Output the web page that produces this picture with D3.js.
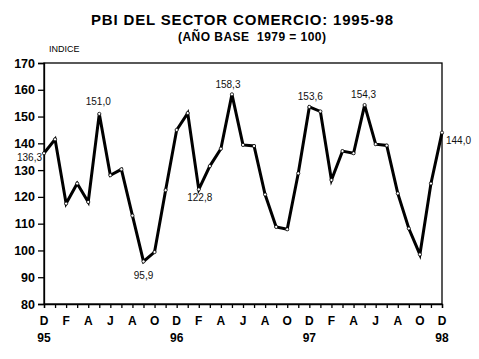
<!DOCTYPE html>
<html>
<head>
<meta charset="utf-8">
<script src="https://cdn.jsdelivr.net/npm/d3@7"></script>
<style>
  html, body { margin: 0; padding: 0; background: #fff; }
  svg { display: block; font-family: Arial, "Liberation Sans", sans-serif; }
</style>
</head>
<body>
<svg id="chart" width="479" height="359"></svg>
<script>
// ---- data ----
const title = "PBI DEL SECTOR COMERCIO: 1995-98";
const subtitle = "(AÑO BASE  1979 = 100)";
const yAxisTitle = "INDICE";
const values = [136.3, 141.5, 117.5, 125.0, 118.1, 151.0, 128.1, 130.3, 113.0, 95.9,
  99.4, 122.5, 145.0, 151.3, 122.8, 131.5, 138.0, 158.3, 139.4, 139.0,
  120.9, 108.8, 107.9, 128.8, 153.6, 151.9, 126.3, 137.1, 136.3, 154.3,
  139.7, 139.2, 121.3, 108.2, 98.5, 125.0, 144.0];
const monthLabels = ["D", "F", "A", "J", "A", "O"];
const yearLabels = ["95", "96", "97", "98"];
const yTicks = [80, 90, 100, 110, 120, 130, 140, 150, 160, 170];
const labeledPoints = [0, 5, 9, 14, 17, 24, 29, 36];

// ---- layout ----
const svg = d3.select("#chart");
const pLeft = 44, pRight = 442, pTop = 63, pBottom = 304;
const x = d3.scaleLinear().domain([0, values.length - 1]).range([pLeft, pRight]);
const y = d3.scaleLinear().domain([80, 170]).range([pBottom, pTop]);

// titles
svg.append("text").attr("x", 242).attr("y", 25).attr("text-anchor", "middle")
  .attr("font-size", 15).attr("font-weight", "bold")
  .attr("textLength", 302).attr("lengthAdjust", "spacing").text(title);
svg.append("text").attr("x", 252).attr("y", 41).attr("text-anchor", "middle")
  .attr("font-size", 12).attr("font-weight", "bold")
  .attr("textLength", 148).attr("lengthAdjust", "spacing")
  .style("white-space", "pre").text(subtitle);
svg.append("text").attr("x", 49).attr("y", 52).attr("font-size", 9).text(yAxisTitle);

// frame
svg.append("rect").attr("x", pLeft).attr("y", pTop).attr("width", pRight - pLeft).attr("height", pBottom - pTop)
  .attr("fill", "none").attr("stroke", "#000").attr("stroke-width", 1.3);

// y axis
const yAxis = d3.axisLeft(y).tickValues(yTicks).tickSize(6).tickPadding(3).tickFormat(d3.format("d"));
const gy = svg.append("g").attr("transform", `translate(${pLeft},0)`).call(yAxis);
gy.select(".domain").attr("stroke-width", 1.3);
gy.selectAll("line").attr("stroke-width", 1.3);
gy.selectAll("text").attr("font-size", 12.5).attr("font-weight", "bold")
  .attr("font-family", "Arial, 'Liberation Sans', sans-serif").attr("fill", "#000");

// x axis: tick every month
const xAxis = d3.axisBottom(x).tickValues(d3.range(values.length)).tickSize(4).tickFormat("");
const gx = svg.append("g").attr("transform", `translate(0,${pBottom})`).call(xAxis);
gx.select(".domain").attr("stroke-width", 1.3);
gx.selectAll("line").attr("stroke-width", 1.3);

const monthIdx = d3.range(0, values.length, 2);
svg.append("g").selectAll("text").data(monthIdx).join("text")
  .attr("x", d => x(d)).attr("y", 325).attr("text-anchor", "middle")
  .attr("font-size", 12).attr("font-weight", "bold")
  .text(d => monthLabels[(d / 2) % monthLabels.length]);
svg.append("g").selectAll("text").data(yearLabels).join("text")
  .attr("x", (d, i) => x(i * 12)).attr("y", 342).attr("text-anchor", "middle")
  .attr("font-size", 12).attr("font-weight", "bold").text(d => d);

// line
const line = d3.line().x((d, i) => x(i)).y(d => y(d));
svg.append("path").datum(values).attr("d", line).attr("fill", "none")
  .attr("stroke", "#000").attr("stroke-width", 3).attr("stroke-linejoin", "miter");
svg.append("g").selectAll("circle").data(values).join("circle")
  .attr("cx", (d, i) => x(i)).attr("cy", d => y(d)).attr("r", 1.6)
  .attr("fill", "#fff").attr("stroke", "#000").attr("stroke-width", 0.8);

// data labels
const fmt = v => v.toFixed(1).replace(".", ",");
const labelPos = {
  0: { dx: -2, dy: 7.5, anchor: "end" },
  5: { dx: -1, dy: -9, anchor: "middle" },
  9: { dx: 0, dy: 18, anchor: "middle" },
  14: { dx: 1, dy: 12, anchor: "middle" },
  17: { dx: -4, dy: -6, anchor: "middle" },
  24: { dx: 1, dy: -6.5, anchor: "middle" },
  29: { dx: -1, dy: -7.5, anchor: "middle" },
  36: { dx: 4, dy: 11, anchor: "start" }
};
svg.append("g").selectAll("text").data(labeledPoints).join("text")
  .attr("x", d => x(d) + labelPos[d].dx).attr("y", d => y(values[d]) + labelPos[d].dy)
  .attr("text-anchor", d => labelPos[d].anchor).attr("font-size", 10).attr("fill", "#111")
  .text(d => fmt(values[d]));
</script>
</body>
</html>
